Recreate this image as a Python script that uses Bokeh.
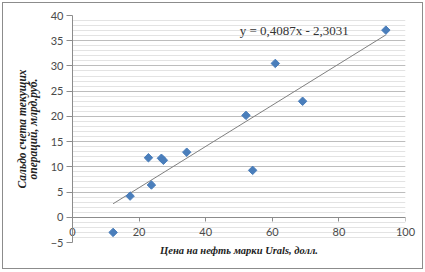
import math
from bokeh.plotting import figure
from bokeh.models import Range1d, SingleIntervalTicker, Label, LinearAxis
from bokeh.embed import file_html
from bokeh.resources import INLINE

# Data
price = [12.2, 17.3, 22.8, 23.7, 26.7, 27.3, 34.3, 52.1, 54.1, 60.9, 69.1, 94.1]
balance = [-3.0, 4.2, 11.8, 6.4, 11.7, 11.3, 12.9, 20.2, 9.3, 30.5, 23.0, 37.1]
slope = 0.4087
intercept = -2.3031
equation = "y = 0,4087x - 2,3031"
x_ticks = [0, 20, 40, 60, 80, 100]
x_title = "Цена на нефть марки Urals, долл."
y_title_lines = ["Сальдо счета текущих", "операций, млрд.руб."]

p = figure(width=419, height=265, output_backend="svg", toolbar_location=None,
           x_range=Range1d(0, 100), y_range=Range1d(-5, 40),
           min_border_left=69, min_border_right=19, min_border_top=12, min_border_bottom=28)
p.margin = (2, 3, 3, 2)
p.styles = {"border": "1px solid #8c8c8c", "box-sizing": "content-box"}
p.outline_line_color = None
p.background_fill_color = "white"
p.border_fill_color = "white"

# grids
p.xgrid.grid_line_color = None
p.yaxis.ticker = SingleIntervalTicker(interval=5, num_minor_ticks=5)
p.xaxis.ticker = x_ticks
p.ygrid.grid_line_color = "#bdbdbd"
p.ygrid.minor_grid_line_color = "#e3e3e3"

title_font = dict(axis_label_text_font="Liberation Serif",
                  axis_label_text_font_style="bold italic",
                  axis_label_text_color="#222222")

# y axis (second title line)
ya = p.yaxis[0]
ya.axis_line_color = "#8c8c8c"
ya.major_tick_line_color = "#8c8c8c"
ya.minor_tick_line_color = None
ya.major_tick_in = 0
ya.major_tick_out = 6
ya.major_label_text_font = "Lato"
ya.major_label_text_font_size = "11px"
ya.major_label_text_color = "#4a4a4a"
ya.major_label_standoff = 3
ya.axis_label = y_title_lines[1]
ya.axis_label_text_font_size = "11.5px"
ya.axis_label_standoff = 9
for k, v in title_font.items():
    setattr(ya, k, v)

# outer left axis carrying the first title line only
outer = LinearAxis(axis_line_color=None, major_tick_line_color=None,
                   minor_tick_line_color=None, major_label_text_color=None,
                   major_label_text_font_size="1px", major_tick_in=0, major_tick_out=0,
                   major_label_standoff=0, axis_label=y_title_lines[0],
                   axis_label_text_font_size="11.5px", axis_label_standoff=-4, **title_font)
outer.ticker = SingleIntervalTicker(interval=5, num_minor_ticks=0)
p.add_layout(outer, "left")

# main x axis: only labels, pulled up into the plot area
xa = p.xaxis[0]
xa.axis_line_color = None
xa.major_tick_line_color = None
xa.minor_tick_line_color = None
xa.major_tick_in = 0
xa.major_tick_out = 0
xa.major_label_standoff = -15
xa.major_label_text_font = "Lato"
xa.major_label_text_font_size = "11px"
xa.major_label_text_color = "#4a4a4a"
xa.axis_label = x_title
xa.axis_label_text_font_size = "10.5px"
xa.axis_label_standoff = 6
for k, v in title_font.items():
    setattr(xa, k, v)

# axis line crossing at y = 0 with ticks
zero_axis = LinearAxis(fixed_location=0, ticker=x_ticks, axis_line_color="#8c8c8c",
                       major_tick_line_color="#8c8c8c", minor_tick_line_color=None,
                       major_tick_in=0, major_tick_out=4, major_label_text_color=None,
                       major_label_text_font_size="1px", major_label_standoff=0)
p.add_layout(zero_axis, "below")

# trendline
xs = [min(price), max(price)]
ys = [slope * v + intercept for v in xs]
p.line(xs, ys, line_color="#808080", line_width=1)

# points
p.scatter(price, balance, marker="square", angle=math.pi / 4, size=6,
          fill_color="#4a7ebb", line_color="#4a7ebb")

p.add_layout(Label(x=50.2, y=35.6, text=equation, text_font="Liberation Serif",
                   text_font_size="13px", text_color="#333333"))

open("out.html", "w").write(file_html(p, INLINE))
